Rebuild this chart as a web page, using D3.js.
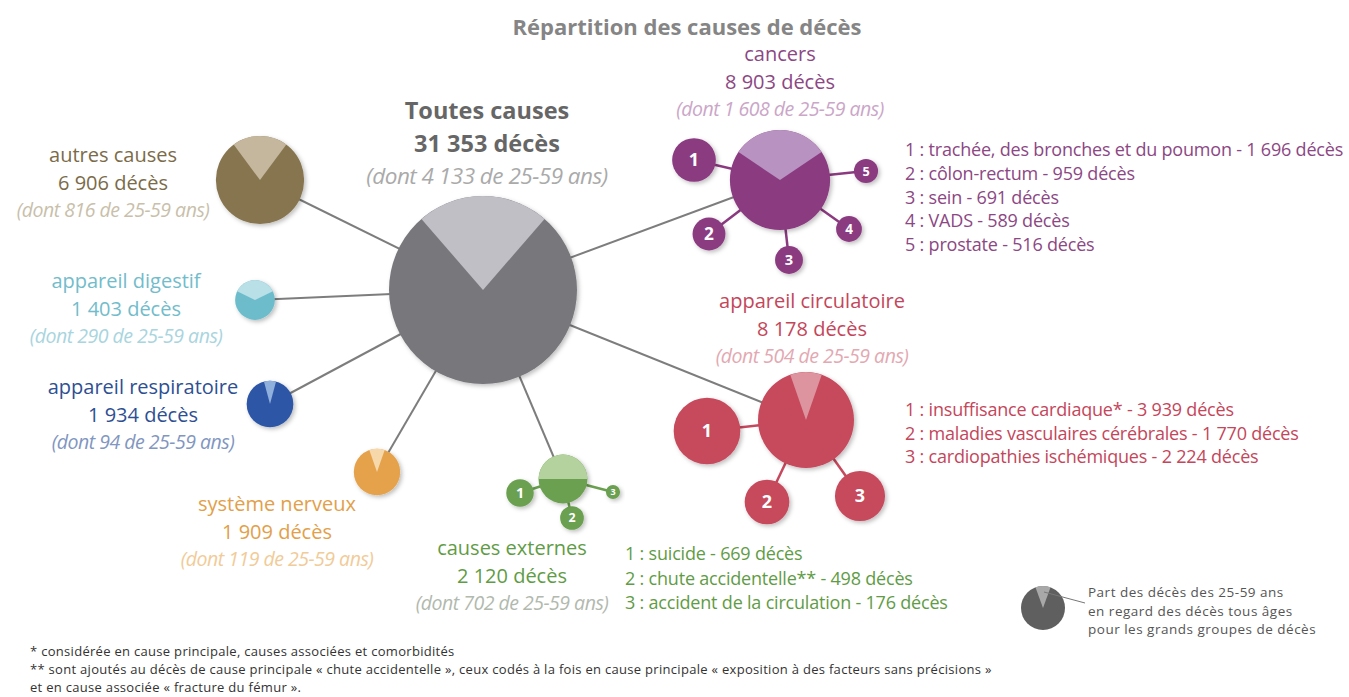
<!DOCTYPE html>
<html>
<head>
<meta charset="utf-8">
<script src="https://cdn.jsdelivr.net/npm/d3@7"></script>
<style>
  body { margin: 0; background: #fff; }
  svg { display: block; font-family: "Open Sans", "Noto Sans", sans-serif; }
</style>
</head>
<body>
<div id="chart"></div>
<script>
// ---------------- DATA ----------------
const totalLabel = "Toutes causes";
const totalDeaths = 31353;
const total2559 = 4133;

const groups = ["autres causes", "appareil digestif", "appareil respiratoire", "système nerveux",
                "causes externes", "appareil circulatoire", "cancers"];
const groupDeaths = [6906, 1403, 1934, 1909, 2120, 8178, 8903];
const group2559 = [816, 290, 94, 119, 702, 504, 1608];

const cancerSub = ["trachée, des bronches et du poumon", "côlon-rectum", "sein", "VADS", "prostate"];
const cancerSubDeaths = [1696, 959, 691, 589, 516];
const circSub = ["insuffisance cardiaque*", "maladies vasculaires cérébrales", "cardiopathies ischémiques"];
const circSubDeaths = [3939, 1770, 2224];
const extSub = ["suicide", "chute accidentelle**", "accident de la circulation"];
const extSubDeaths = [669, 498, 176];

const footnotes = [
  "* considérée en cause principale, causes associées et comorbidités",
  "** sont ajoutés au décès de cause principale « chute accidentelle », ceux codés à la fois en cause principale « exposition à des facteurs sans précisions »",
  "et en cause associée « fracture du fémur »."
];
const legendLines = ["Part des décès des 25-59 ans", "en regard des décès tous âges", "pour les grands groupes de décès"];

// ---------------- LAYOUT ----------------
const width = 1349, height = 697;
const center = {x: 483, y: 290};

// bubble position, label position, colours
const layout = {
  "autres causes":        {x: 260, y: 180, lx: 113, ly: 162, dark: "#86754f", light: "#c4b79d", text: "#7b6b49", ital: "#c9bfab"},
  "appareil digestif":    {x: 255, y: 300, lx: 126, ly: 288, dark: "#6dbccc", light: "#b9dfe7", text: "#72bccb", ital: "#a9d5de"},
  "appareil respiratoire":{x: 270, y: 404, lx: 143, ly: 394, dark: "#2d56a6", light: "#8fb0dc", text: "#2e4f93", ital: "#8196c0"},
  "système nerveux":      {x: 377, y: 472, lx: 277, ly: 511, dark: "#e6a24b", light: "#f6d8ab", text: "#e2a04a", ital: "#f1cb98"},
  "causes externes":      {x: 563, y: 479, lx: 512, ly: 555, dark: "#6aa04f", light: "#b3d29d", text: "#5f9c45", ital: "#b2b9ae"},
  "appareil circulatoire":{x: 806, y: 420, lx: 812, ly: 308, dark: "#c6485c", light: "#dd949e", text: "#c4465a", ital: "#e3a9b2"},
  "cancers":              {x: 780, y: 180, lx: 780, ly: 61,  dark: "#8b3a80", light: "#b892c0", text: "#8c4784", ital: "#cba6c8"}
};

// satellites: offset from the parent bubble
const subLayout = {
  "cancers": {offsets: [[-86, -20], [-71, 54], [9, 80], [69, 49], [86, -9]], names: cancerSub, values: cancerSubDeaths,
              lx: 905, ly: 156, step: 23.8},
  "appareil circulatoire": {offsets: [[-99, 11], [-39, 82], [54, 76]], names: circSub, values: circSubDeaths,
              lx: 905, ly: 416, step: 23.5},
  "causes externes": {offsets: [[-43, 14], [9, 39], [50, 13]], names: extSub, values: extSubDeaths,
              lx: 625, ly: 560, step: 24.5}
};

const fr = d3.formatLocale({decimal: ",", thousands: "\u00a0", grouping: [3], currency: ["", " €"]});
const fmt = fr.format(",d");

// area proportional bubbles
const r = d3.scaleSqrt().domain([0, totalDeaths]).range([0, 94]);
// share of 25-59 year olds -> total opening of the light wedge
const wedge = d3.scaleLinear().domain([0, 0.29]).range([0, Math.PI]).clamp(true);

const svg = d3.select("#chart").append("svg")
  .attr("width", width)
  .attr("height", height)
  .attr("viewBox", `0 0 ${width} ${height}`);

const defs = svg.append("defs");
const shadow = defs.append("filter").attr("id", "shadow")
  .attr("x", "-30%").attr("y", "-30%").attr("width", "160%").attr("height", "160%");
shadow.append("feDropShadow")
  .attr("dx", 2).attr("dy", 2).attr("stdDeviation", 2.2)
  .attr("flood-color", "#000").attr("flood-opacity", 0.25);

// ---------------- TITLE ----------------
svg.append("text")
  .attr("x", 687).attr("y", 35)
  .attr("text-anchor", "middle")
  .style("font-size", "22px").style("font-weight", "bold")
  .attr("fill", "#858585")
  .text("Répartition des causes de décès");

// ---------------- CONNECTORS ----------------
const linkG = svg.append("g");
groups.forEach(g => {
  const p = layout[g];
  linkG.append("line")
    .attr("x1", center.x).attr("y1", center.y)
    .attr("x2", p.x).attr("y2", p.y)
    .attr("stroke", "#7d7d7d")
    .attr("stroke-width", 2);
});

function bubble(sel, x, y, value, part, dark, light) {
  const rad = r(value);
  const g = sel.append("g").attr("transform", `translate(${x},${y})`);
  g.append("circle").attr("r", rad).attr("fill", dark).attr("filter", "url(#shadow)");
  if (part != null) {
    const a = wedge(part / value) / 2;
    g.append("path")
      .attr("d", d3.arc()({innerRadius: 0, outerRadius: rad, startAngle: -a, endAngle: a}))
      .attr("fill", light);
  }
  return g;
}

// sub-causes satellites
Object.entries(subLayout).forEach(([name, s]) => {
  const p = layout[name];
  s.values.forEach((v, i) => {
    const sx = p.x + s.offsets[i][0], sy = p.y + s.offsets[i][1];
    svg.append("line")
      .attr("x1", p.x).attr("y1", p.y).attr("x2", sx).attr("y2", sy)
      .attr("stroke", p.dark).attr("stroke-width", 2.5);
    const b = bubble(svg, sx, sy, v, null, p.dark, p.light);
    const rad = r(v);
    b.append("text")
      .attr("text-anchor", "middle")
      .attr("dy", "0.36em")
      .attr("fill", "#fff")
      .style("font-weight", "bold")
      .style("font-size", Math.max(9, Math.min(18, rad * 1.05)) + "px")
      .text(i + 1);

    // list on the right
    svg.append("text")
      .attr("x", s.lx).attr("y", s.ly + i * s.step)
      .attr("fill", p.text)
      .style("font-size", "18px")
      .style("letter-spacing", "-0.2px")
      .text(`${i + 1} : ${s.names[i]} - ${fmt(v)} décès`);
  });
});

// ---------------- GROUP BUBBLES ----------------
groups.forEach((g, i) => {
  const p = layout[g];
  bubble(svg, p.x, p.y, groupDeaths[i], group2559[i], p.dark, p.light);

  const t = svg.append("g").attr("text-anchor", "middle");
  t.append("text").attr("x", p.lx).attr("y", p.ly)
    .attr("fill", p.text).style("font-size", "20px").text(g);
  t.append("text").attr("x", p.lx).attr("y", p.ly + 28)
    .attr("fill", p.text).style("font-size", "20px").text(`${fmt(groupDeaths[i])} décès`);
  t.append("text").attr("x", p.lx).attr("y", p.ly + 55)
    .attr("fill", p.ital).style("font-size", "19.5px").style("font-style", "italic")
    .style("letter-spacing", "-0.5px")
    .text(`(dont ${fmt(group2559[i])} de 25-59 ans)`);
});

// central bubble
bubble(svg, center.x, center.y, totalDeaths, total2559, "#77777b", "#c0bfc5");
const tc = svg.append("g").attr("text-anchor", "middle");
tc.append("text").attr("x", 487).attr("y", 119)
  .attr("fill", "#666").style("font-size", "23.5px").style("font-weight", "bold").text(totalLabel);
tc.append("text").attr("x", 487).attr("y", 152)
  .attr("fill", "#666").style("font-size", "23.5px").style("font-weight", "bold").text(`${fmt(totalDeaths)} décès`);
tc.append("text").attr("x", 487).attr("y", 184)
  .attr("fill", "#aaa").style("font-size", "22.5px").style("font-style", "italic")
  .style("letter-spacing", "-0.5px")
  .text(`(dont ${fmt(total2559)} de 25-59 ans)`);

// ---------------- LEGEND ----------------
const lg = svg.append("g").attr("transform", "translate(1043,608)");
lg.append("circle").attr("r", 22).attr("fill", "#5f5f5f");
lg.append("path")
  .attr("d", d3.arc()({innerRadius: 0, outerRadius: 22, startAngle: -0.35, endAngle: 0.35}))
  .attr("fill", "#a8a8a8");
svg.append("line")
  .attr("x1", 1044).attr("y1", 592).attr("x2", 1085).attr("y2", 603)
  .attr("stroke", "#777").attr("stroke-width", 1);
legendLines.forEach((l, i) => {
  svg.append("text")
    .attr("x", 1088).attr("y", 597 + i * 18.5)
    .attr("fill", "#555")
    .style("font-size", "13.5px")
    .style("letter-spacing", "0.5px")
    .text(l);
});

// ---------------- FOOTNOTES ----------------
footnotes.forEach((f, i) => {
  svg.append("text")
    .attr("x", 30).attr("y", 656 + i * 18)
    .attr("fill", "#333")
    .style("font-size", "13px")
    .style("letter-spacing", "0.3px")
    .text(f);
});
</script>
</body>
</html>
